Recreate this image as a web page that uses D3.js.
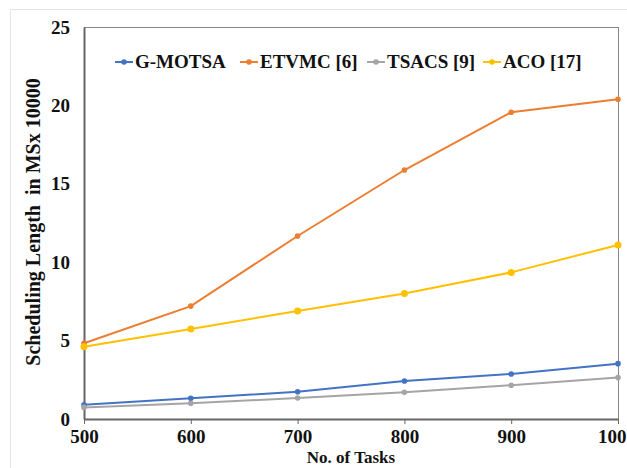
<!DOCTYPE html>
<html>
<head>
<meta charset="utf-8">
<script src="https://cdn.jsdelivr.net/npm/d3@7"></script>
<style>
  body { margin: 0; background: #fff; }
  svg text { font-family: "Liberation Serif", "Times New Roman", serif; font-weight: bold; }
</style>
</head>
<body>
<div id="chart"></div>
<script>
// data
var tasks = [500, 600, 700, 800, 900, 1000];
var xTickLabels = ["500", "600", "700", "800", "900", "100"];
var yTicks = [0, 5, 10, 15, 20, 25];
var seriesNames = ["G-MOTSA", "ETVMC [6]", "TSACS [9]", "ACO [17]"];
var gmotsa = [0.91, 1.32, 1.74, 2.42, 2.87, 3.53];
var etvmc = [4.83, 7.2, 11.67, 15.88, 19.56, 20.39];
var tsacs = [0.74, 1.0, 1.34, 1.70, 2.15, 2.64];
var aco = [4.61, 5.74, 6.89, 8.01, 9.35, 11.1];
var colors = ["#4472C4", "#ED7D31", "#A5A5A5", "#FFC000"];

var allSeries = [gmotsa, etvmc, tsacs, aco];

var W = 627, H = 468;
var margin = {top: 27, right: 9, bottom: 49, left: 84};
var width = W - margin.left - margin.right,
    height = H - margin.top - margin.bottom;

var svg = d3.select("#chart").append("svg")
    .attr("width", W)
    .attr("height", H);

// outer light frame
svg.append("rect")
    .attr("x", 10.5).attr("y", 9.5)
    .attr("width", W).attr("height", H)
    .attr("fill", "none")
    .attr("stroke", "#e4e4e4");

var g = svg.append("g")
    .attr("transform", "translate(" + margin.left + "," + margin.top + ")");

var x = d3.scaleLinear().domain([500, 1000]).range([0, width]);
var y = d3.scaleLinear().domain([0, 25]).range([height, 0]);

// plot box
g.append("rect")
    .attr("x", 0.5).attr("y", 0.5)
    .attr("width", width).attr("height", height)
    .attr("fill", "none")
    .attr("stroke", "#888")
    .attr("stroke-width", 1);

// X axis
var xAxis = g.append("g")
    .attr("transform", "translate(0," + height + ")")
    .call(d3.axisBottom(x).tickValues(tasks)
        .tickFormat(function(d, i) { return xTickLabels[i]; })
        .tickSize(5).tickSizeOuter(0).tickPadding(6));
xAxis.select(".domain").attr("stroke", "#666").attr("stroke-width", 2);
xAxis.selectAll(".tick line").attr("stroke", "#666");
xAxis.selectAll("text")
    .attr("font-size", 19).attr("fill", "#111");
// last label sits against the right edge (cropped in the original)
xAxis.selectAll(".tick text").filter(function(d) { return d == 1000; })
    .attr("text-anchor", "end").attr("dx", 8);

// Y axis
var yAxis = g.append("g")
    .call(d3.axisLeft(y).tickValues(yTicks).tickSize(0).tickPadding(14));
yAxis.select(".domain").attr("stroke", "#666").attr("stroke-width", 2);
yAxis.selectAll("text")
    .attr("font-size", 19).attr("fill", "#111");

// axis titles
svg.append("text")
    .attr("x", 351).attr("y", 463)
    .attr("text-anchor", "middle")
    .attr("font-size", 17).attr("fill", "#111")
    .text("No. of Tasks");

svg.append("text")
    .attr("transform", "translate(40,222) rotate(-90)")
    .attr("text-anchor", "middle")
    .attr("font-size", 20).attr("fill", "#111")
    .attr("xml:space", "preserve")
    .text("Scheduling Length  in MSx 10000");

// lines
var line = d3.line()
    .x(function(d, i) { return x(tasks[i]); })
    .y(function(d) { return y(d); });

allSeries.forEach(function(s, k) {
    g.append("path")
        .datum(s)
        .attr("fill", "none")
        .attr("stroke", colors[k])
        .attr("stroke-width", 2)
        .attr("d", line);
    g.selectAll(".dot" + k)
        .data(s)
        .enter().append("circle")
        .attr("cx", function(d, i) { return x(tasks[i]); })
        .attr("cy", function(d) { return y(d); })
        .attr("r", k == 3 ? 3.5 : 2.8)
        .attr("fill", colors[k]);
});

// legend
var legendX = [115, 240, 367, 483];
var legend = svg.selectAll(".legend")
    .data(seriesNames)
    .enter().append("g")
    .attr("transform", function(d, i) { return "translate(" + legendX[i] + ",62)"; });

legend.append("line")
    .attr("x1", 0).attr("x2", 18)
    .attr("stroke", function(d, i) { return colors[i]; })
    .attr("stroke-width", 2);
legend.append("circle")
    .attr("cx", 9).attr("r", 2.8)
    .attr("fill", function(d, i) { return colors[i]; });
legend.append("text")
    .attr("x", 20).attr("y", 6)
    .attr("font-size", 19).attr("fill", "#111")
    .text(function(d) { return d; });
</script>
</body>
</html>
